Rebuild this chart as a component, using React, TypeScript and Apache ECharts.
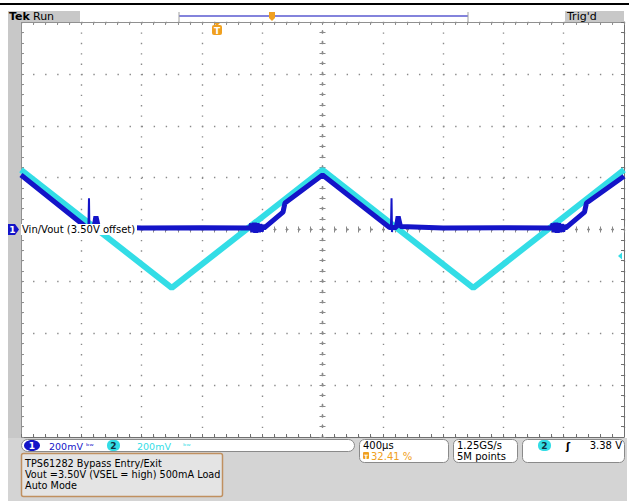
import React, { useEffect, useRef } from "react";
import * as echarts from "echarts";

// ---- data (time in µs relative to screen centre, volts) ----
const OFFSET_V = 3.5; // channel offset shown at screen centre
const vinTimeUs = [-2000, -1000, 0, 1000, 2000];
const vinVolts = [3.73, 3.275, 3.73, 3.275, 3.73];

const voutTimeUs = [
  -2000, -1565, -1515, -1503, -1488, -1200, -800, -480, -470, -461, -452, -443, -434, -425, -416, -407, -398, -388, -262, -249, 0,
  445, 490, 502, 517, 800, 1200, 1520, 1530, 1539, 1548, 1557, 1566, 1575, 1584, 1593, 1602, 1612, 1738, 1751, 2000,
];
const voutVolts = [
  3.71, 3.508, 3.508, 3.55, 3.512, 3.506, 3.507, 3.506, 3.522, 3.49, 3.526, 3.488, 3.524, 3.49, 3.52, 3.492, 3.516, 3.505, 3.567, 3.602, 3.71,
  3.508, 3.508, 3.55, 3.512, 3.506, 3.507, 3.506, 3.522, 3.49, 3.526, 3.488, 3.524, 3.49, 3.52, 3.492, 3.516, 3.505, 3.567, 3.602, 3.705,
];

const spike1TimeUs = [-1553, -1549, -1546, -1542];
const spike1Volts = [3.508, 3.62, 3.49, 3.51];
const spike2TimeUs = [454, 458, 461, 465];
const spike2Volts = [3.508, 3.62, 3.49, 3.51];

// readouts
const ch1Scale = "200mV";
const ch2Scale = "200mV";
const timebase = "400µs";
const trigPos = "32.41 %";
const sampleRate = "1.25GS/s";
const recordLen = "5M points";
const trigLevel = "3.38 V";
const noteLines = ["TPS61282 Bypass Entry/Exit", "Vout =3.50V (VSEL = high) 500mA Load", "Auto Mode"];
const traceLabel = "Vin/Vout (3.50V offset)";

const BLUE = "#1414c8";
const CYAN = "#33dde6";
const ORANGE = "#f0a020";
const GRID = "#8a8a8a";
const FONT = "DejaVu Sans";

const toPairs = (t: number[], v: number[]) => t.map((x, i) => [x, (v[i] - OFFSET_V) * 1000]);

const txt = (text: string, x: number, y: number, opts: any = {}) => ({
  type: "text",
  z: 20,
  style: {
    text,
    x,
    y,
    fill: opts.fill || "#000",
    fontSize: opts.size || 10,
    fontFamily: FONT,
    fontWeight: opts.weight || "normal",
    align: opts.align || "left",
    textAlign: opts.align || "left",
    verticalAlign: "middle",
    textVerticalAlign: "middle",
  },
});

const rect = (x: number, y: number, w: number, h: number, style: any, r = 0, z = 15) => ({
  type: "rect",
  z,
  shape: { x, y, width: w, height: h, r },
  style,
});

const xBase = { type: "value", min: -2000, max: 2000, axisLabel: { show: false }, splitLine: { show: false } };
const yBase = { type: "value", min: -800, max: 800, axisLabel: { show: false }, splitLine: { show: false } };

const option: any = {
  animation: false,
  backgroundColor: "#ffffff",
  grid: { left: 21, top: 22, width: 603, height: 415 },
  xAxis: [
    {
      ...xBase,
      interval: 400,
      position: "bottom",
      axisLine: { show: false, onZero: false },
      axisTick: { show: false },
      splitLine: { show: true, lineStyle: { color: GRID, width: 1.4, type: [1.4, 8.975] } },
    },
    {
      ...xBase,
      interval: 80,
      position: "bottom",
      axisLine: { show: true, onZero: false, lineStyle: { color: "#707070", width: 1 } },
      axisTick: { show: true, inside: true, length: 3, lineStyle: { color: "#707070" } },
    },
    {
      ...xBase,
      interval: 80,
      position: "top",
      axisLine: { show: true, onZero: false, lineStyle: { color: "#909090", width: 1 } },
      axisTick: { show: true, inside: true, length: 3, lineStyle: { color: "#909090" } },
    },
    {
      ...xBase,
      interval: 80,
      position: "bottom",
      axisLine: { show: true, onZero: true, onZeroAxisIndex: 0, lineStyle: { color: GRID, width: 1.4, type: [1.4, 10.66] } },
      axisTick: { show: true, inside: true, length: 3, lineStyle: { color: GRID } },
    },
    {
      ...xBase,
      interval: 80,
      position: "top",
      axisLine: { show: true, onZero: true, onZeroAxisIndex: 0, lineStyle: { color: GRID, width: 1.4, type: [1.4, 10.66] } },
      axisTick: { show: true, inside: true, length: 3, lineStyle: { color: GRID } },
    },
  ],
  yAxis: [
    {
      ...yBase,
      interval: 200,
      position: "left",
      axisLine: { show: false, onZero: false },
      axisTick: { show: false },
      splitLine: { show: true, lineStyle: { color: GRID, width: 1.4, type: [1.4, 10.66] } },
    },
    {
      ...yBase,
      interval: 40,
      position: "left",
      axisLine: { show: true, onZero: false, lineStyle: { color: "#909090", width: 1 } },
      axisTick: { show: true, inside: true, length: 3, lineStyle: { color: "#909090" } },
    },
    {
      ...yBase,
      interval: 40,
      position: "right",
      axisLine: { show: true, onZero: false, lineStyle: { color: "#707070", width: 1 } },
      axisTick: { show: true, inside: true, length: 3, lineStyle: { color: "#707070" } },
    },
    {
      ...yBase,
      interval: 40,
      position: "left",
      axisLine: { show: true, onZero: true, onZeroAxisIndex: 0, lineStyle: { color: GRID, width: 1.4, type: [1.4, 8.975] } },
      axisTick: { show: true, inside: true, length: 3, lineStyle: { color: GRID } },
    },
    {
      ...yBase,
      interval: 40,
      position: "right",
      axisLine: { show: true, onZero: true, onZeroAxisIndex: 0, lineStyle: { color: GRID, width: 1.4, type: [1.4, 8.975] } },
      axisTick: { show: true, inside: true, length: 3, lineStyle: { color: GRID } },
    },
  ],
  series: [
    {
      name: "Vin",
      type: "line",
      xAxisIndex: 0,
      yAxisIndex: 0,
      data: toPairs(vinTimeUs, vinVolts),
      showSymbol: false,
      silent: true,
      z: 3,
      lineStyle: { color: CYAN, width: 6 },
    },
    {
      name: "Vout",
      type: "line",
      xAxisIndex: 0,
      yAxisIndex: 0,
      data: toPairs(voutTimeUs, voutVolts),
      showSymbol: false,
      silent: true,
      z: 4,
      lineStyle: { color: BLUE, width: 5 },
    },
    {
      name: "Vout spike 1",
      type: "line",
      xAxisIndex: 0,
      yAxisIndex: 0,
      data: toPairs(spike1TimeUs, spike1Volts),
      showSymbol: false,
      silent: true,
      z: 5,
      lineStyle: { color: BLUE, width: 2 },
    },
    {
      name: "Vout spike 2",
      type: "line",
      xAxisIndex: 0,
      yAxisIndex: 0,
      data: toPairs(spike2TimeUs, spike2Volts),
      showSymbol: false,
      silent: true,
      z: 5,
      lineStyle: { color: BLUE, width: 2 },
    },
  ],
  graphic: [
    // top rule
    rect(0, 3, 629, 2, { fill: "#000" }),
    // left strip and header
    rect(8, 11, 13, 427, { fill: "#c8c8c8" }, 0, 1),
    rect(8, 11, 72, 11, { fill: "#c8c8c8" }),
    txt("Tek", 9, 16.5, { size: 11, weight: "bold" }),
    txt("Run", 33, 16.5, { size: 11 }),
    rect(565, 11, 59, 11, { fill: "#c8c8c8" }),
    txt("Trig'd", 567, 16.5, { size: 11 }),
    // horizontal position bar
    { type: "line", z: 15, shape: { x1: 179, y1: 16, x2: 468, y2: 16 }, style: { stroke: "#5a5ad0", lineWidth: 1.5 } },
    { type: "line", z: 15, shape: { x1: 179, y1: 12, x2: 179, y2: 22 }, style: { stroke: "#a0a0a0", lineWidth: 1 } },
    { type: "line", z: 15, shape: { x1: 468, y1: 12, x2: 468, y2: 22 }, style: { stroke: "#a0a0a0", lineWidth: 1 } },
    { type: "polygon", z: 16, shape: { points: [[269, 12], [275, 12], [275, 18], [272, 21], [269, 18]] }, style: { fill: ORANGE } },
    // trigger position marker
    { type: "polygon", z: 16, shape: { points: [[214, 23], [220, 23], [217, 26]] }, style: { fill: ORANGE } },
    rect(212, 25, 10, 10, { fill: ORANGE }, 2, 16),
    txt("T", 217, 30.5, { size: 9, weight: "bold", fill: "#fff", align: "center" }),
    // channel 1 marker + label
    { type: "polygon", z: 16, shape: { points: [[8, 224], [15, 224], [19, 229.5], [15, 235], [8, 235]] }, style: { fill: BLUE } },
    txt("1", 12.5, 229.5, { size: 9, weight: "bold", fill: "#fff", align: "center" }),
    rect(21, 224, 116, 11, { fill: "#ffffff" }, 0, 16),
    txt(traceLabel, 22, 229.5, { size: 10 }),
    // trigger level arrow (ch2)
    { type: "polygon", z: 16, shape: { points: [[622, 252.5], [622, 259.5], [618, 256]] }, style: { fill: CYAN } },
    // bottom panel
    rect(8, 438, 619, 63, { fill: "#d4d4d4" }, 0, 1),
    rect(21.5, 439.5, 333, 12, { fill: "#fff", stroke: "#8a8a8a", lineWidth: 1 }, 6),
    { type: "ellipse", z: 16, shape: { cx: 32, cy: 445.5, rx: 8, ry: 5.5 }, style: { fill: BLUE } },
    txt("1", 32, 446, { size: 9, weight: "bold", fill: "#fff", align: "center" }),
    txt(ch1Scale, 49, 446, { size: 9.5, fill: BLUE }),
    txt("ᵇʷ", 86, 446, { size: 8, fill: BLUE }),
    rect(107, 440, 13, 11, { fill: CYAN }, 5, 16),
    txt("2", 113.5, 446, { size: 9, weight: "bold", fill: "#103040", align: "center" }),
    txt(ch2Scale, 137, 446, { size: 9.5, fill: CYAN }),
    txt("ᵇʷ", 183, 446, { size: 8, fill: CYAN }),
    rect(359.5, 439.5, 89, 23, { fill: "#fff", stroke: "#8a8a8a", lineWidth: 1 }, 5),
    txt(timebase, 363, 445.5, { size: 10 }),
    rect(363, 452, 6, 7, { fill: ORANGE }, 1, 16),
    txt("T", 366, 456, { size: 6, weight: "bold", fill: "#fff", align: "center" }),
    txt(trigPos, 371, 456, { size: 10, fill: ORANGE }),
    rect(453.5, 439.5, 64, 23, { fill: "#fff", stroke: "#8a8a8a", lineWidth: 1 }, 5),
    txt(sampleRate, 457, 445.5, { size: 10 }),
    txt(recordLen, 457, 456, { size: 10 }),
    rect(522.5, 439.5, 102, 23, { fill: "#fff", stroke: "#8a8a8a", lineWidth: 1 }, 5),
    rect(538, 440, 13, 11, { fill: CYAN }, 5, 16),
    txt("2", 544.5, 446, { size: 9, weight: "bold", fill: "#103040", align: "center" }),
    txt("ʃ", 566, 446, { size: 10, weight: "bold" }),
    txt(trigLevel, 622, 445.5, { size: 10, align: "right" }),
    // note box
    rect(21.5, 453.5, 201, 43, { fill: "#e4e4e4", stroke: "#c09060", lineWidth: 1.5 }, 2),
    txt(noteLines[0], 25, 463.5, { size: 9.7 }),
    txt(noteLines[1], 25, 474.5, { size: 9.7 }),
    txt(noteLines[2], 25, 485.5, { size: 9.7 }),
  ],
};

export default function App() {
  const ref = useRef<HTMLDivElement>(null);
  useEffect(() => {
    const chart = echarts.init(ref.current!, undefined, { renderer: "svg" });
    chart.setOption(option);
    return () => chart.dispose();
  }, []);
  return (
    <div
      ref={ref}
      style={{ position: "absolute", left: 0, top: 0, width: 629, height: 501, background: "#fff" }}
    />
  );
}
